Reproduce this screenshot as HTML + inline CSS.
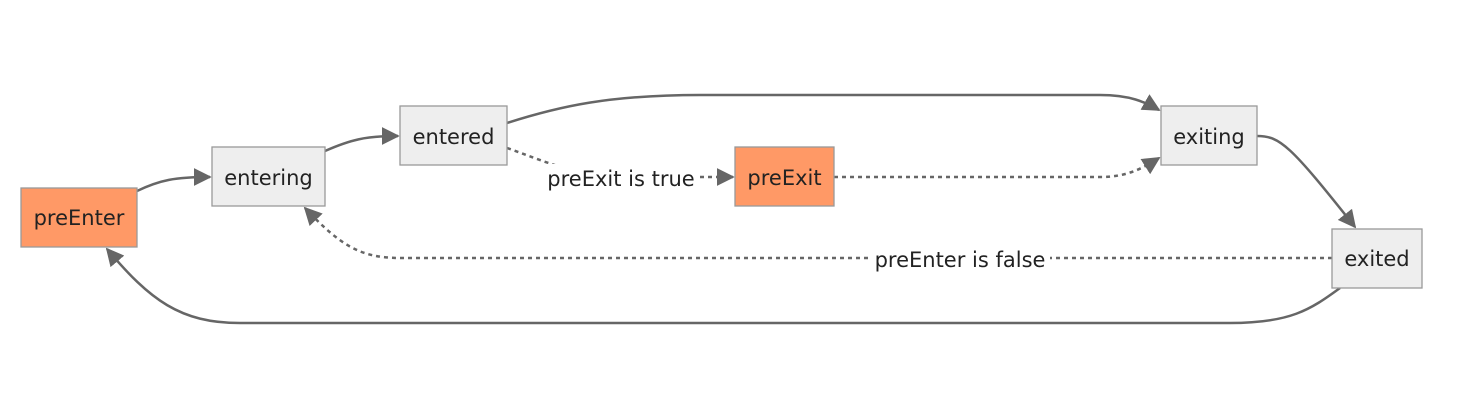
<!DOCTYPE html>
<html><head><meta charset="utf-8"><style>
html,body{margin:0;padding:0;background:#fff;}
svg text{font-family:"DejaVu Sans","Liberation Sans",sans-serif;font-size:21px;fill:#222;}
</style></head><body>
<svg width="1460" height="415" viewBox="0 0 1460 415" xmlns="http://www.w3.org/2000/svg">
<defs>
<marker id="b" viewBox="0 0 10 10" refX="9" refY="5" markerWidth="18" markerHeight="18" markerUnits="userSpaceOnUse" orient="auto">
<path d="M0,0 L10,5 L0,10 z" fill="#666"/></marker>
</defs>
<g fill="none" stroke="#666" stroke-width="2.5">
<path d="M137,191 C160,180 175,177 210,177" marker-end="url(#b)"/>
<path d="M325,151 C350,140 365,136 398,136" marker-end="url(#b)"/>
<path d="M507,123 C560,106 610,95 700,95 L1100,95 C1130,95 1145,102 1159,110" marker-end="url(#b)"/>
<path d="M1257,136 C1280,136 1290,145 1355,227" marker-end="url(#b)"/>
<path d="M1340,288 C1310,310 1290,323 1230,323 L240,323 C180,323 150,300 107,249" marker-end="url(#b)"/>
<g stroke-dasharray="4,4">
<path d="M507,148 C530,156 550,165 580,172" />
<path d="M700,177 L733,177" marker-end="url(#b)"/>
<path d="M834,177 L1100,177 C1125,177 1140,170 1159,158" marker-end="url(#b)"/>
<path d="M1332,258 L400,258 C360,258 340,245 305,208" marker-end="url(#b)"/>
</g>
</g>
<rect x="543" y="164" width="156" height="28" fill="#fff"/>
<text x="621" y="186" text-anchor="middle">preExit is true</text>
<rect x="870" y="245" width="180" height="28" fill="#fff"/>
<text x="960" y="267" text-anchor="middle">preEnter is false</text>
<g stroke="#999" stroke-width="1.3">
<rect x="21" y="188" width="116" height="59" fill="#ff9966"/>
<rect x="212" y="147" width="113" height="59" fill="#eee"/>
<rect x="400" y="106" width="107" height="59" fill="#eee"/>
<rect x="735" y="147" width="99" height="59" fill="#ff9966"/>
<rect x="1161" y="106" width="96" height="59" fill="#eee"/>
<rect x="1332" y="229" width="90" height="59" fill="#eee"/>
</g>
<text x="79" y="225" text-anchor="middle">preEnter</text>
<text x="268.5" y="185" text-anchor="middle">entering</text>
<text x="453.5" y="144" text-anchor="middle">entered</text>
<text x="784.5" y="185" text-anchor="middle">preExit</text>
<text x="1209" y="144" text-anchor="middle">exiting</text>
<text x="1377" y="266" text-anchor="middle">exited</text>
</svg>
</body></html>
